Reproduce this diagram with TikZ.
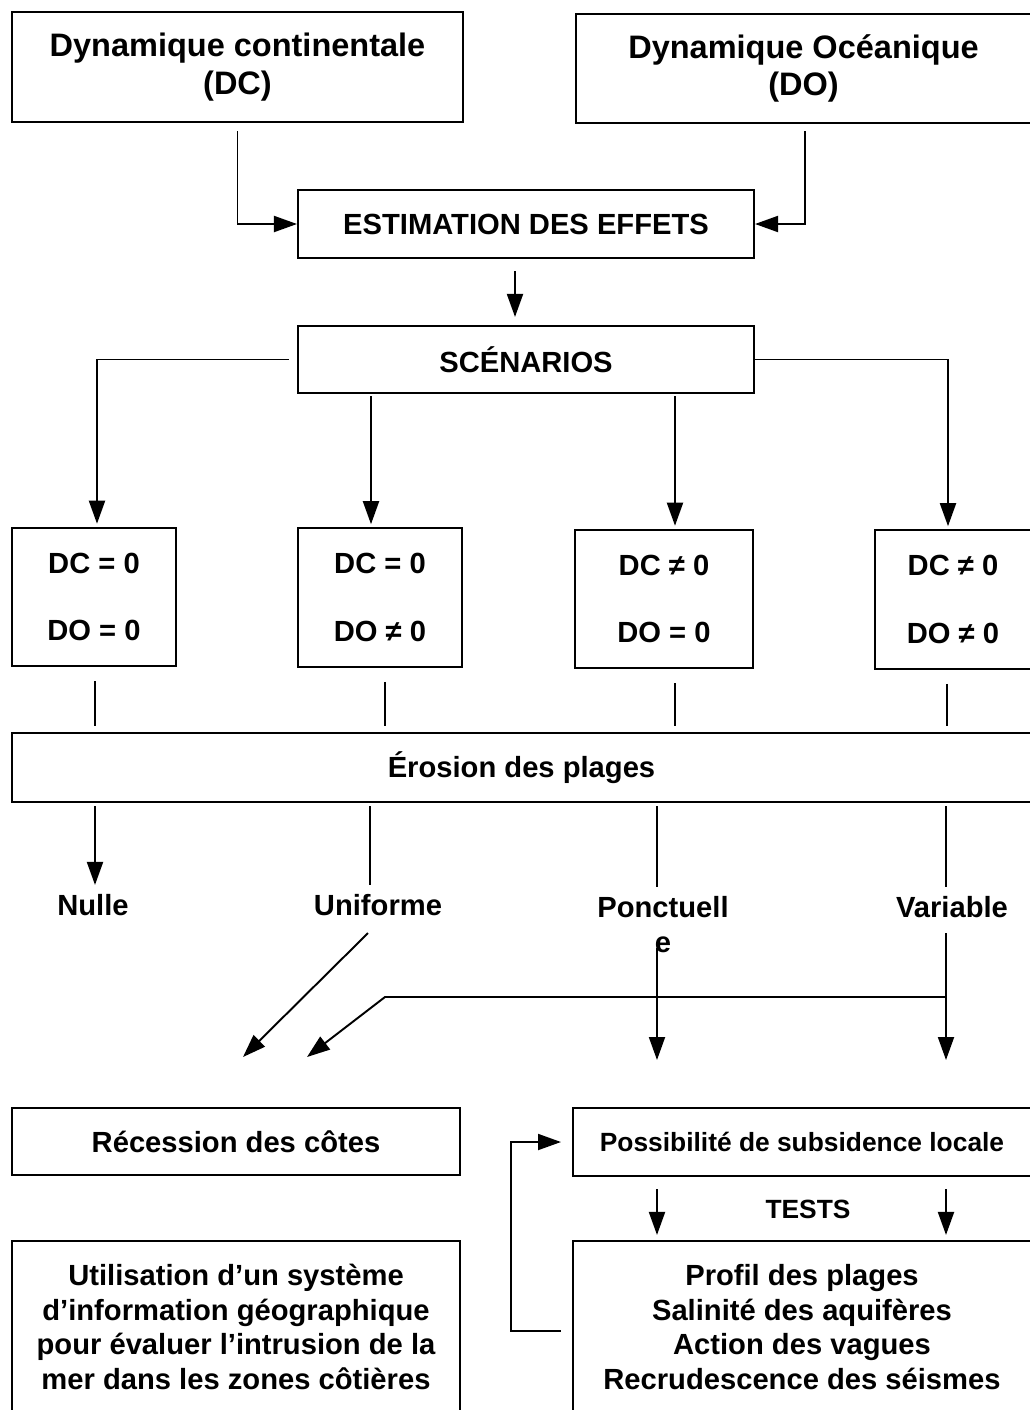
\documentclass[tikz,border=0pt]{standalone}
\usepackage{fontspec}
\setmainfont{Liberation Sans}
\usetikzlibrary{arrows.meta}

\newcommand{\titlefnt}{\fontsize{18.5}{21.5}\selectfont\bfseries}
\newcommand{\boxfnt}{\fontsize{16.6}{19.8}\selectfont\bfseries}
\newcommand{\pairfnt}{\fontsize{16.6}{38.6}\selectfont\bfseries}
\newcommand{\smallfnt}{\fontsize{15}{18}\selectfont\bfseries}

\begin{document}
\begin{tikzpicture}[x=0.02cm, y=-0.02cm,
    box/.style={draw, line width=1.2pt, inner sep=0pt, align=center, font=\boxfnt},
    link/.style={line width=1.1pt},
    arr/.style={link, -{Triangle[length=0.46cm, width=0.32cm]}},
    lbl/.style={inner sep=0.1cm, align=center, font=\boxfnt}]
    \useasboundingbox (0,0) rectangle (1029,1410);

    \node[box, font=\titlefnt, minimum width=9.02cm, minimum height=2.2cm] (dc) at (237.5,67) {Dynamique continentale\\(DC)};
    \node[box, font=\titlefnt, minimum width=9.1cm, minimum height=2.18cm] (do) at (803.5,68.5) {Dynamique Océanique\\(DO)};
    \node[box, minimum width=9.12cm, minimum height=1.36cm] (est) at (526,224) {ESTIMATION DES EFFETS};
    \node[box, minimum width=9.12cm, minimum height=1.34cm] (scen) at (526,359.5) {SCÉNARIOS};

    \foreach \i/\x/\y/\w/\t in {1/94/597/3.28/{DC = 0\\DO = 0}, 2/380/597.5/3.28/{DC = 0\\DO ≠ 0},
                                3/664/599/3.56/{DC ≠ 0\\DO = 0}, 4/953/599.5/3.12/{DC ≠ 0\\DO ≠ 0}} {
      \node[box, font=\pairfnt, minimum width=\w cm, minimum height=2.77cm] (s\i) at (\x,\y) {\t};
    }

    \node[box, minimum width=20.38cm, minimum height=1.38cm] (ero) at (521.5,767.5) {Érosion des plages};

    \node[lbl] (nulle) at (93,905) {Nulle};
    \node[lbl] (unif) at (378,905) {Uniforme};
    \node[lbl] (ponct) at (663,924.5) {Ponctuell\\e};
    \node[lbl] (var) at (952,907) {Variable};

    \node[box, minimum width=8.96cm, minimum height=1.34cm] (rec) at (236,1141.5) {Récession des côtes};
    \node[box, font=\smallfnt, minimum width=9.16cm, minimum height=1.36cm] (poss) at (802,1142) {Possibilité de subsidence locale};
    \node[font=\smallfnt] (tlbl) at (808,1209) {TESTS};
    \node[box, minimum width=8.96cm, minimum height=3.44cm] (util) at (236,1327) {Utilisation d’un système\\d’information géographique\\pour évaluer l’intrusion de la\\mer dans les zones côtières};
    \node[box, minimum width=9.16cm, minimum height=3.44cm] (tests) at (802,1327) {Profil des plages\\Salinité des aquifères\\Action des vagues\\Recrudescence des séismes};

    \draw[arr, shorten <=0.16cm] (dc.south) |- (est.west);
    \draw[arr, shorten <=0.14cm] ([xshift=0.03cm]do.south) |- (est.east);
    \draw[arr, shorten <=0.24cm, shorten >=0.16cm] ([xshift=-0.22cm]est.south) -- ([xshift=-0.22cm]scen.north);

    \draw[arr, shorten <=0.16cm, shorten >=0.06cm] (scen.west) -| ([xshift=0.06cm]s1.north);
    \draw[arr, shorten >=0.06cm] (scen.east) -| ([xshift=-0.1cm]s4.north);
    \draw[arr, shorten <=0.04cm, shorten >=0.06cm] ([xshift=-0.18cm]s2.north |- scen.south) -- ([xshift=-0.18cm]s2.north);
    \draw[arr, shorten <=0.04cm, shorten >=0.06cm] ([xshift=0.22cm]s3.north |- scen.south) -- ([xshift=0.22cm]s3.north);

    \foreach \i/\d in {1/0.02, 2/0.1, 3/0.22, 4/-0.12} {
      \draw[link, shorten <=0.28cm, shorten >=0.12cm] ([xshift=\d cm]s\i.south) -- ([xshift=\d cm]s\i.south |- ero.north);
    }

    \draw[arr, shorten <=0.06cm, shorten >=0.08cm] ([xshift=0.04cm]nulle.north |- ero.south) -- ([xshift=0.04cm]nulle.north);
    \draw[link, shorten <=0.06cm, shorten >=0.08cm] ([xshift=-0.16cm]unif.north |- ero.south) -- ([xshift=-0.16cm]unif.north);
    \draw[link, shorten <=0.06cm, shorten >=0.08cm] ([xshift=-0.12cm]ponct.north |- ero.south) -- ([xshift=-0.12cm]ponct.north);
    \draw[link, shorten <=0.06cm, shorten >=0.08cm] ([xshift=-0.12cm]var.north |- ero.south) -- ([xshift=-0.12cm]var.north);

    \coordinate (r1) at (243,1057);
    \coordinate (r2) at (307,1057);
    \coordinate (p1) at (657,1060);
    \coordinate (p2) at (946,1060);
    \coordinate (knee) at (385,997);

    \draw[arr] ([xshift=-0.2cm, yshift=-0.24cm]unif.south) -- (r1);
    \draw[arr] ([yshift=0.2cm]p1 |- ponct.south) -- (p1);
    \draw[arr, shorten <=0.2cm] (p2 |- var.south) -- (p2);
    \draw[arr] (p2 |- knee) -- (knee) -- (r2);

    \draw[arr, shorten <=0.24cm, shorten >=0.1cm] (p1 |- poss.south) -- (p1 |- tests.north);
    \draw[arr, shorten <=0.24cm, shorten >=0.1cm] (p2 |- poss.south) -- (p2 |- tests.north);
    \draw[arr, shorten <=0.22cm, shorten >=0.22cm] ([yshift=-0.08cm]tests.west) -- ++(-61,0) |- (poss.west);
\end{tikzpicture}
\end{document}
